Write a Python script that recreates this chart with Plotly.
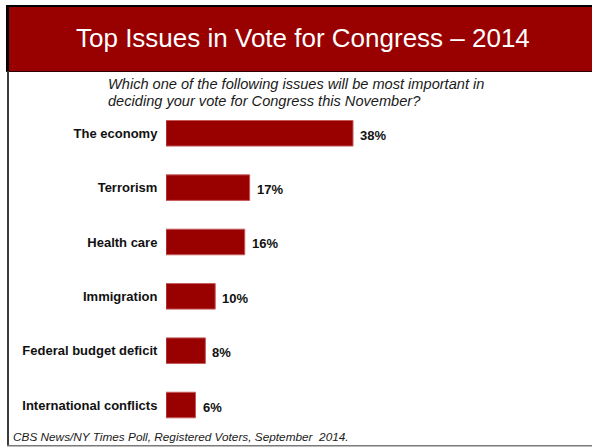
import plotly.graph_objects as go

categories = ["The economy", "Terrorism", "Health care", "Immigration",
              "Federal budget deficit", "International conflicts"]
values = [38, 17, 16, 10, 8, 6]
value_labels = ["38%", "17%", "16%", "10%", "8%", "6%"]

title_text = "Top Issues in Vote for Congress \u2013 2014"
subtitle_lines = ["Which one of the following issues will be most important in",
                  "deciding your vote for Congress this November?"]
footer_text = "CBS News/NY Times Poll, Registered Voters, September  2014."

W, H = 592, 447
FONT = "Liberation Sans, Arial, sans-serif"
RED = "#990000"


def px(x):
    return x / W


def py(y):
    return 1 - y / H


fig = go.Figure()
fig.add_trace(go.Bar(
    x=values, y=categories, orientation="h",
    width=0.47,
    marker=dict(color=RED, line=dict(color="#c45a5a", width=1)),
    hoverinfo="skip",
))

annotations = []
for c, v, t in zip(categories, values, value_labels):
    annotations.append(dict(
        x=v, y=c, xref="x", yref="y", text=t, showarrow=False,
        xanchor="left", yanchor="middle", xshift=5, yshift=-2,
        font=dict(family=FONT, size=13, color="#111111", weight="bold"),
    ))

annotations.append(dict(
    x=px(302.5), y=py(38), xref="paper", yref="paper", text=title_text,
    showarrow=False, xanchor="center", yanchor="middle",
    font=dict(family=FONT, size=26, color="white"),
))
for i, (line, yc) in enumerate(zip(subtitle_lines, [84, 101])):
    annotations.append(dict(
        x=px(106), y=py(yc), xref="paper", yref="paper", text=line,
        showarrow=False, xanchor="left", yanchor="middle",
        font=dict(family=FONT, size=14.6, color="#1a1a1a", style="italic"),
    ))
annotations.append(dict(
    x=px(11), y=py(437), xref="paper", yref="paper", text=footer_text,
    showarrow=False, xanchor="left", yanchor="middle",
    font=dict(family=FONT, size=11.8, color="#1a1a1a", style="italic"),
))

shapes = [
    # banner
    dict(type="rect", xref="paper", yref="paper", x0=px(9), x1=1, y0=py(71), y1=py(7),
         fillcolor=RED, line=dict(width=0), layer="below"),
    # top black line
    dict(type="rect", xref="paper", yref="paper", x0=px(6), x1=1, y0=py(7), y1=py(5),
         fillcolor="black", line=dict(width=0)),
    # left black line along banner
    dict(type="rect", xref="paper", yref="paper", x0=px(6), x1=px(9), y0=py(71), y1=py(5),
         fillcolor="black", line=dict(width=0)),
    # line under banner
    dict(type="line", xref="paper", yref="paper", x0=px(6), x1=1, y0=py(71.5), y1=py(71.5),
         line=dict(color="#2a0000", width=1)),
    # left border below banner
    dict(type="rect", xref="paper", yref="paper", x0=px(7), x1=px(9), y0=py(446), y1=py(71),
         fillcolor="#3c3c3c", line=dict(width=0)),
    # bottom border
    dict(type="rect", xref="paper", yref="paper", x0=px(7), x1=1, y0=py(446.5), y1=py(445),
         fillcolor="#7a7a7a", line=dict(width=0)),
]

x_px_per_unit = (353 - 166) / 38
x_range = 40
fig.update_layout(
    width=W, height=H,
    margin=dict(l=0, r=0, t=0, b=0),
    paper_bgcolor="white", plot_bgcolor="white",
    showlegend=False,
    xaxis=dict(domain=[px(166), px(166 + x_range * x_px_per_unit)], range=[0, x_range],
               visible=False, fixedrange=True),
    yaxis=dict(domain=[py(432.2), py(106.1)], type="category",
               categoryorder="array", categoryarray=categories,
               range=[5.5, -0.5], showgrid=False, zeroline=False, showline=False,
               ticks="outside", ticklen=5, tickcolor="rgba(0,0,0,0)",
               tickfont=dict(family=FONT, size=13, color="#111111", weight="bold"),
               fixedrange=True),
    annotations=annotations,
    shapes=shapes,
)

fig.write_html("out.html", config={"displayModeBar": False})

# remove the browser's default page margin so the figure fills the window
with open("out.html", "r", encoding="utf-8") as f:
    html = f.read()
html = html.replace("<head>", "<head><style>html,body{margin:0;padding:0;overflow:hidden;}</style>", 1)
with open("out.html", "w", encoding="utf-8") as f:
    f.write(html)
